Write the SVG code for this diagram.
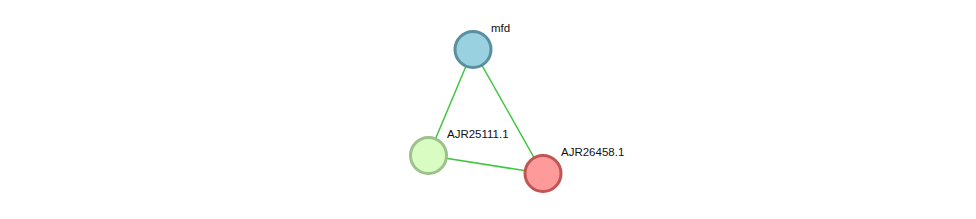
<svg xmlns="http://www.w3.org/2000/svg" width="976" height="219" viewBox="0 0 976 219">
<style>
.edge{stroke:#3fc63f;stroke-width:1.5;fill:none}
.node{stroke-width:3}
.lbl{font-family:"Liberation Sans",Arial,sans-serif;font-size:11.5px;fill:#111}
</style>
<rect width="976" height="219" fill="#fff"/>
<g id="connectors">
<line class="edge" x1="473" y1="49.5" x2="428.5" y2="155.5"/>
<line class="edge" x1="473" y1="49.5" x2="543" y2="173.5"/>
<line class="edge" x1="428.5" y1="155.5" x2="543" y2="173.5"/>
</g>
<g id="mfd">
<circle class="node" cx="473" cy="49.5" r="18" fill="#99d1e0" stroke="#5a8fa0"/>
<text class="lbl" x="491" y="32">mfd</text>
</g>
<g id="AJR25111.1">
<circle class="node" cx="428.5" cy="155.5" r="18" fill="#d9fcc3" stroke="#9cc18b"/>
<text class="lbl" x="447" y="138">AJR25111.1</text>
</g>
<g id="AJR26458.1">
<circle class="node" cx="543" cy="173.5" r="18" fill="#ff9a9a" stroke="#c05555"/>
<text class="lbl" x="561" y="156">AJR26458.1</text>
</g>
</svg>
